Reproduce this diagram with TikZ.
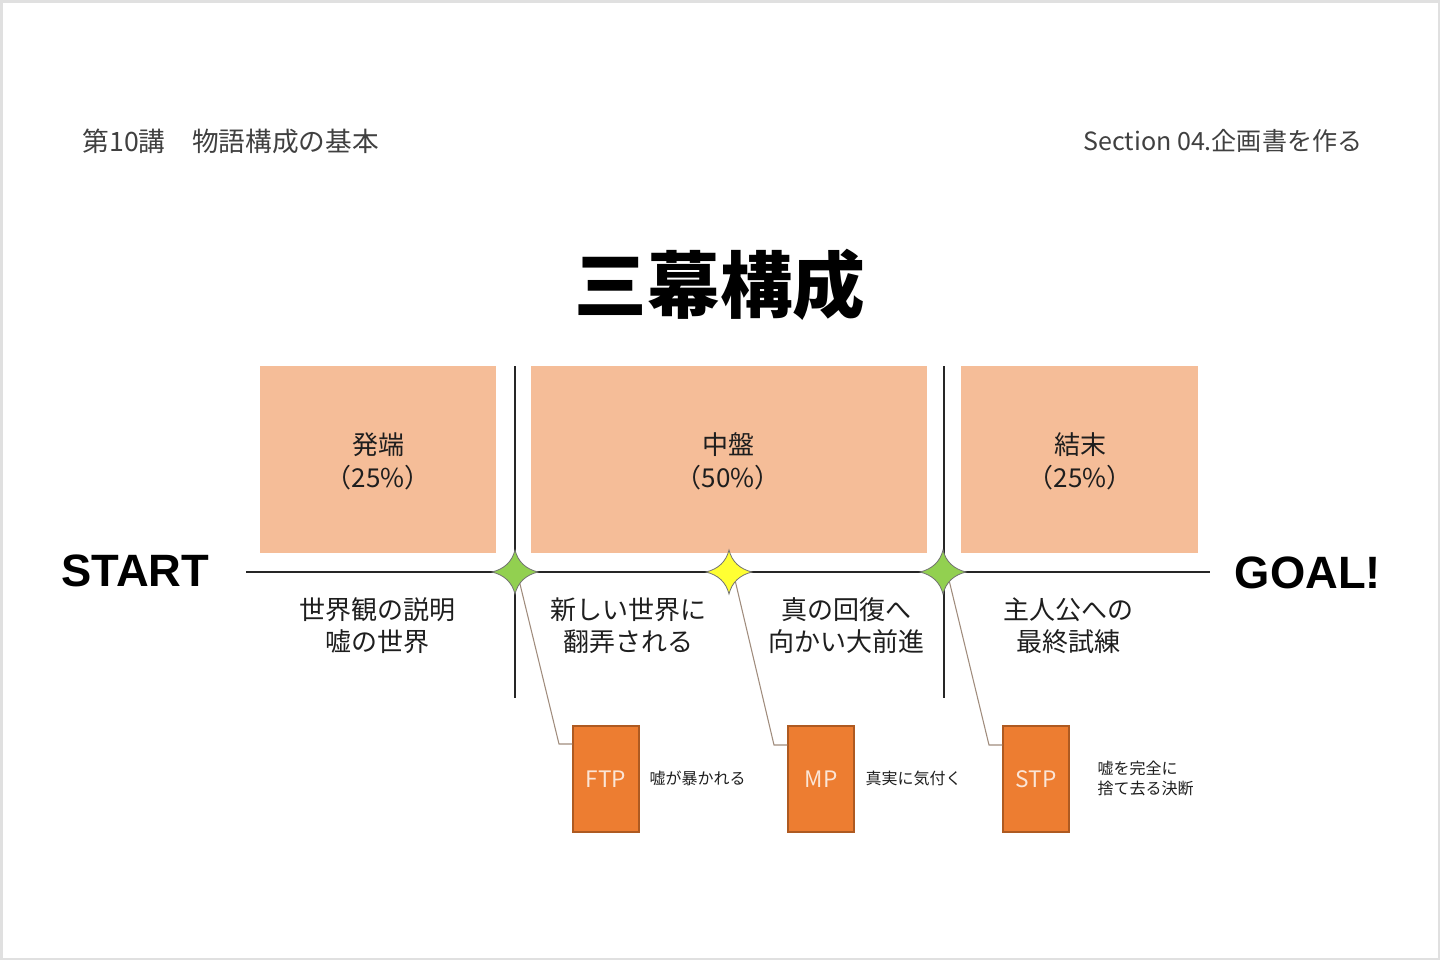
\documentclass[tikz,border=0pt]{standalone}
\usepackage{fontspec}
\setmainfont{Noto Sans CJK JP}
\newfontfamily\latinfont{Liberation Sans}
\definecolor{peach}{RGB}{245,189,152}
\definecolor{orangebox}{RGB}{237,125,49}
\definecolor{orangeedge}{RGB}{174,90,33}
\definecolor{lighttext}{RGB}{251,229,214}
\definecolor{stargreen}{RGB}{146,208,80}
\definecolor{staryellow}{RGB}{255,255,51}
\definecolor{conn}{RGB}{160,140,125}
\definecolor{txt}{RGB}{30,30,30}
\begin{document}
\begin{tikzpicture}[x=0.75pt,y=-0.75pt,
  actbox/.style={fill=peach,draw=none,minimum height=187*0.75pt,inner sep=0pt},
  ptbox/.style={fill=orangebox,draw=orangeedge,line width=0.8pt,minimum width=66*0.75pt,minimum height=106*0.75pt,inner sep=0pt,text=lighttext,font=\fontsize{17}{20}\selectfont},
  acttext/.style={align=center,text=txt,font=\fontsize{19.5}{24.75}\selectfont},
  lowtext/.style={align=center,text=txt,font=\fontsize{19.5}{24}\selectfont},
  smalltext/.style={align=left,anchor=west,text=txt,font=\fontsize{12}{15}\selectfont},
  header/.style={text=txt!85},
  endtext/.style={font=\latinfont\bfseries\fontsize{34}{36}\selectfont,text=black},
  axis/.style={line width=1pt,draw=black!85},
  connline/.style={draw=conn,line width=0.8pt},
  starshape/.style={draw=black!55,line width=0.6pt}
]
\useasboundingbox (0,0) rectangle (1440,960);
\draw[draw=black!12,line width=1.5pt] (1.5,1.5) rectangle (1438.5,958.5);

% headers
\node[header,anchor=west,font=\fontsize{20}{24}\selectfont] (h1) at (78,141) {第10講　物語構成の基本};
\node[header,anchor=east,font=\fontsize{18.8}{22}\selectfont] (h2) at (1367,141) {Section 04.企画書を作る};

% title
\node[font=\bfseries\fontsize{54.5}{60}\selectfont,text=black] (title) at (720,285) {三幕構成};

% act boxes
\node[actbox,minimum width=236*0.75pt] (b1) at (378,459.5) {};
\node[actbox,minimum width=396*0.75pt] (b2) at (729,459.5) {};
\node[actbox,minimum width=237*0.75pt] (b3) at (1079.5,459.5) {};
\node[acttext] (t1) at (378,461) {発端\\（25\%）};
\node[acttext] (t2) at (728,461) {中盤\\（50\%）};
\node[acttext] (t3) at (1080,461) {結末\\（25\%）};

% axis
\coordinate (la) at (246,572);
\coordinate (ra) at (1210,572);
\draw[axis] (la) -- (ra);
\coordinate (v1t) at (515,366); \coordinate (v1b) at (515,698);
\coordinate (v2t) at (944,366); \coordinate (v2b) at (944,698);
\draw[axis] (v1t) -- (v1b);
\draw[axis] (v2t) -- (v2b);

\node[endtext] (start) at (135.5,571) {START};
\node[endtext] (goal) at (1308,573) {GOAL!};

% lower texts
\node[lowtext] (l1) at (377,626) {世界観の説明\\嘘の世界};
\node[lowtext] (l2) at (628,626) {新しい世界に\\翻弄される};
\node[lowtext] (l3) at (846,626) {真の回復へ\\向かい大前進};
\node[lowtext] (l4) at (1068,626) {主人公への\\最終試練};

% point boxes
\node[ptbox] (ftp) at (606,779) {FTP};
\node[ptbox] (mp) at (821,779) {MP};
\node[ptbox] (stp) at (1036,779) {STP};

\node[smalltext] (s1) at (645,778) {嘘が暴かれる};
\node[smalltext] (s2) at (861,778) {真実に気付く};
\node[smalltext] (s3) at (1093,778) {嘘を完全に\\捨て去る決断};

% connectors
\coordinate (c1) at (519,580); \coordinate (k1) at (559,744);
\coordinate (c2) at (735,580); \coordinate (k2) at (774,745);
\coordinate (c3) at (949,580); \coordinate (k3) at (989,745);
\draw[connline] (c1) -- (k1) -- (k1 -| ftp.west);
\draw[connline] (c2) -- (k2) -- (k2 -| mp.west);
\draw[connline] (c3) -- (k3) -- (k3 -| stp.west);

% stars
\newcommand{\fourstar}[3]{%
  \draw[starshape,fill=#3] (#1,#2) ++(0,-22)
    .. controls ++(3,12) and ++(-12,-3) .. ++(23,22)
    .. controls ++(-12,3) and ++(3,-12) .. ++(-23,22)
    .. controls ++(-3,-12) and ++(12,3) .. ++(-23,-22)
    .. controls ++(12,-3) and ++(-3,12) .. ++(23,-22) -- cycle;}
\fourstar{515}{572}{stargreen}
\fourstar{729}{572}{staryellow}
\fourstar{943}{572}{stargreen}
\end{tikzpicture}
\end{document}
